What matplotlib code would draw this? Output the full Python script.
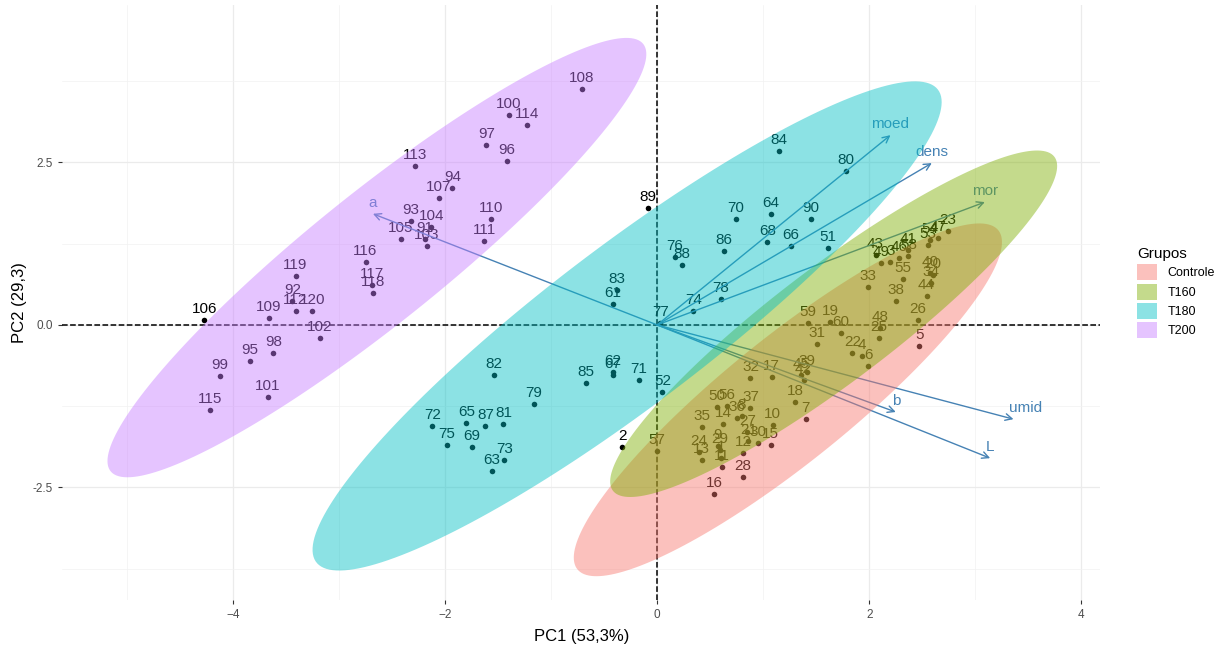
import matplotlib.pyplot as plt
from matplotlib.patches import Patch
import numpy as np

plt.rcParams['font.family'] = ['Liberation Sans', 'DejaVu Sans']

groups = ['Controle', 'T160', 'T180', 'T200']
group_colors = ['#F8766D', '#7CAE00', '#00BFC4', '#C77CFF']

# individual scores (ids 1-30 Controle, 31-60 T160, 61-90 T180, 91-120 T200)
controle_pc1 = [0.60, -0.33, 2.20, 1.93, 2.47, 1.99, 1.40, 0.80, 0.57, 1.09,
                0.61, 0.81, 0.42, 0.62, 1.07, 0.54, 1.08, 1.30, 1.63, 2.60,
                0.86, 1.84, 2.74, 0.39, 2.09, 2.46, 0.85, 0.81, 0.59, 0.95]
controle_pc2 = [-2.05, -1.88, 0.97, -0.48, -0.32, -0.63, -1.45, -1.40, -1.86, -1.54,
                -2.18, -1.97, -2.08, -1.52, -1.85, -2.60, -0.80, -1.18, 0.05, 0.77,
                -1.78, -0.43, 1.45, -1.95, -0.20, 0.08, -1.65, -2.34, -1.93, -1.82]
t160_pc1 = [1.51, 0.88, 1.99, 2.58, 0.42, 0.75, 0.88, 2.25, 1.41, 2.57,
            2.37, 1.38, 2.06, 2.54, 1.36, 2.28, 2.65, 2.10, 2.11, 0.56,
            1.61, 0.05, 2.55, 2.57, 2.32, 0.66, 0.00, 2.37, 1.42, 1.73]
t160_pc2 = [-0.29, -0.82, 0.58, 0.65, -1.57, -1.43, -1.28, 0.37, -0.72, 0.80,
            1.15, -0.85, 1.08, 0.45, -0.77, 1.03, 1.34, -0.05, 0.95, -1.26,
            1.18, -1.03, 1.23, 1.31, 0.71, -1.25, -1.94, 1.06, 0.03, -0.12]
t180_pc1 = [-0.42, -0.42, -1.56, 1.07, -1.80, 1.26, -0.42, 1.04, -1.75, 0.74,
            -0.17, -2.12, -1.44, 0.34, -1.98, 0.17, 0.03, 0.60, -1.16, 1.78,
            -1.45, -1.54, -0.38, 1.15, -0.67, 0.63, -1.62, 0.23, -0.09, 1.45]
t180_pc2 = [0.32, -0.72, -2.25, 1.71, -1.51, 1.22, -0.77, 1.28, -1.88, 1.63,
            -0.85, -1.55, -2.08, 0.22, -1.85, 1.05, 0.03, 0.40, -1.22, 2.37,
            -1.52, -0.77, 0.54, 2.68, -0.89, 1.14, -1.55, 0.92, 1.80, 1.63]
t200_pc1 = [-2.19, -3.44, -2.32, -1.93, -3.84, -1.42, -1.61, -3.62, -4.12, -1.40,
            -3.67, -3.18, -2.17, -2.13, -2.42, -4.27, -2.06, -0.71, -3.66, -1.57,
            -1.63, -3.41, -2.28, -1.23, -4.22, -2.75, -2.69, -2.68, -3.41, -3.25]
t200_pc2 = [1.32, 0.37, 1.60, 2.11, -0.55, 2.52, 2.77, -0.43, -0.78, 3.23,
            -1.11, -0.20, 1.22, 1.51, 1.32, 0.08, 1.95, 3.63, 0.11, 1.63,
            1.29, 0.22, 2.45, 3.08, -1.31, 0.97, 0.62, 0.49, 0.75, 0.22]

# variable loadings (arrows)
var_names = ['moed', 'dens', 'mor', 'a', 'b', 'umid', 'L']
var_pc1 = [2.20, 2.59, 3.09, -2.68, 2.25, 3.36, 3.14]
var_pc2 = [2.92, 2.49, 1.89, 1.71, -1.34, -1.45, -2.05]

pc1 = [controle_pc1, t160_pc1, t180_pc1, t200_pc1]
pc2 = [controle_pc2, t160_pc2, t180_pc2, t200_pc2]


def conf_ellipse(x, y, r=2.58, n=200):
    pts = np.column_stack([x, y])
    c = pts.mean(axis=0)
    vals, vecs = np.linalg.eigh(np.cov(pts.T))
    t = np.linspace(0, 2 * np.pi, n)
    circ = np.column_stack([np.cos(t), np.sin(t)]) * np.sqrt(vals) * r
    return c + circ @ vecs.T


fig = plt.figure(figsize=(12.2, 6.45), dpi=100)
ax = fig.add_axes([0.051, 0.070, 0.851, 0.922])
ax.set_axisbelow(True)

ax.set_xlim(-5.61, 4.18)
ax.set_ylim(-4.23, 4.92)
ax.set_xticks([-4, -2, 0, 2, 4])
ax.set_yticks([-2.5, 0.0, 2.5])
ax.set_yticklabels(['-2.5', '0.0', '2.5'])
ax.set_xticks([-5, -3, -1, 1, 3], minor=True)
ax.set_yticks([-3.75, -1.25, 1.25, 3.75], minor=True)
ax.grid(which='major', color='#EBEBEB', linewidth=0.9)
ax.grid(which='minor', color='#F2F2F2', linewidth=0.5)
for s in ax.spines.values():
    s.set_visible(False)
ax.tick_params(which='major', length=3, color='#333333', labelcolor='#4D4D4D', labelsize=8.5)
ax.tick_params(which='minor', length=0)

ax.axhline(0, color='black', linestyle='--', linewidth=1.1, zorder=1.8)
ax.axvline(0, color='black', linestyle='--', linewidth=1.1, zorder=1.8)

# points and labels
idx = 1
for g in range(len(groups)):
    ax.scatter(pc1[g], pc2[g], s=16, color='black', zorder=2, linewidths=0)
    for x, y in zip(pc1[g], pc2[g]):
        ax.annotate(str(idx), (x, y), xytext=(0, 5), textcoords='offset points',
                    ha='center', va='baseline', fontsize=11, color='black', zorder=2)
        idx += 1

# variable arrows
for name, vx, vy in zip(var_names, var_pc1, var_pc2):
    ax.annotate('', xy=(vx, vy), xytext=(0, 0),
                arrowprops=dict(arrowstyle='->', color='#4682B4', lw=1.0,
                                shrinkA=0, shrinkB=0, mutation_scale=12), zorder=2)
    dx = 9 if name == 'umid' else 0
    ax.annotate(name, (vx, vy), xytext=(dx, 5), textcoords='offset points',
                ha='center', va='baseline', fontsize=11, color='#4682B4', zorder=2)

# ellipses on top, semi-transparent
for g in range(len(groups)):
    e = conf_ellipse(pc1[g], pc2[g])
    ax.fill(e[:, 0], e[:, 1], color=group_colors[g], alpha=0.45, linewidth=0, zorder=3)

ax.set_xlabel('PC1 (53,3%)', fontsize=12, labelpad=6)
ax.set_ylabel('PC2 (29,3)', fontsize=12, labelpad=4)

handles = [Patch(facecolor=c, alpha=0.45, edgecolor='none') for c in group_colors]
fig.legend(handles, groups, title='Grupos', loc='upper left',
           bbox_to_anchor=(1126 / 1220, 1 - 236 / 645), frameon=False,
           fontsize=9, title_fontsize=11, handlelength=1.6, handleheight=1.6,
           labelspacing=0.25, handletextpad=0.8, alignment='left')

fig.savefig('out.png', dpi=100)
